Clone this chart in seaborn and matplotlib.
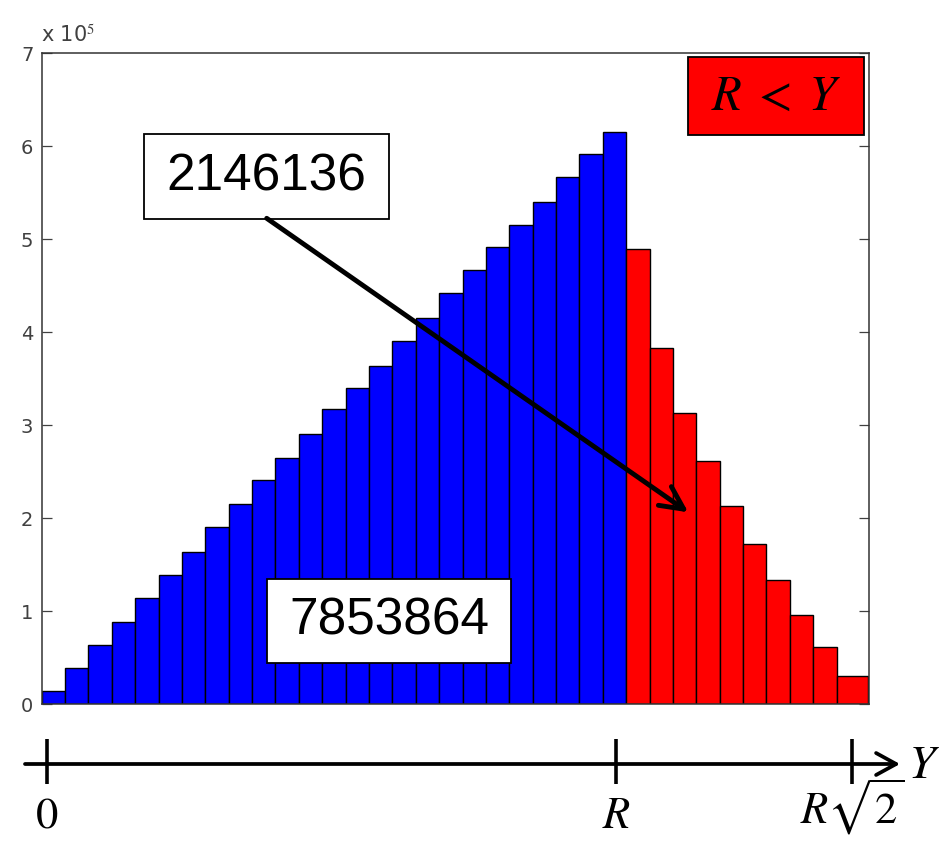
import numpy as np
import pandas as pd
import matplotlib
matplotlib.use("Agg")
import matplotlib.pyplot as plt
import seaborn as sns
from matplotlib.patches import Rectangle, FancyArrowPatch

# Distance Y from the corner for 10^7 random points in an R x R square,
# binned in steps of R/25 up to the largest distance R*sqrt(2).
bin_width = 0.04
y_max = np.sqrt(2)

counts_inside = [14000, 38700, 63800, 88200, 114400, 138800, 163800, 190000,
                 214800, 241300, 264300, 290100, 317000, 339600, 364000,
                 390800, 414900, 441800, 466500, 491300, 515600, 539700,
                 566600, 591600, 615600]          # Y < R
counts_outside = [489100, 382600, 313400, 261700, 213300, 172100, 133400,
                  95700, 61600, 30100]            # R < Y

total_inside = 7853864
total_outside = 2146136

ytick_values = [0, 1, 2, 3, 4, 5, 6, 7]
ytick_labels = ["0", "1", "2", "3", "4", "5", "6", "7"]
line_marks = [0.0, 1.0, np.sqrt(2)]
line_labels = [r"$0$", r"$R$", r"$R\sqrt{2}$"]

sns.set_style("white")
plt.rcParams["mathtext.fontset"] = "stix"

W, H = 939, 841
fig = plt.figure(figsize=(W / 100, H / 100), dpi=100)


def fx(x):
    return x / W


def fy(y):
    return 1 - y / H


# ---- histogram -----------------------------------------------------------
ax = fig.add_axes([fx(41.7), fy(704), fx(869) - fx(41.7), fy(53.3) - fy(704)])

edges_in = np.arange(len(counts_inside) + 1) * bin_width
edges_out = np.append(1.0 + np.arange(len(counts_outside)) * bin_width, y_max)
df_in = pd.DataFrame({"Y": (edges_in[:-1] + edges_in[1:]) / 2,
                      "count": counts_inside})
df_out = pd.DataFrame({"Y": (edges_out[:-1] + edges_out[1:]) / 2,
                       "count": counts_outside})

bar_kw = dict(alpha=1, edgecolor="black", linewidth=1.0, ax=ax)
sns.histplot(data=df_in, x="Y", weights="count", bins=list(edges_in),
             color="#0000ff", **bar_kw)
sns.histplot(data=df_out, x="Y", weights="count", bins=list(edges_out),
             color="#ff0000", **bar_kw)

ax.set_xlim(0, 1.4155)
ax.set_ylim(0, 7e5)
ax.set_xlabel("")
ax.set_ylabel("")
ax.set_xticks([])
ax.set_yticks(np.array(ytick_values) * 1e5, labels=ytick_labels)
ax.tick_params(axis="y", direction="in", length=7, width=0.9,
               left=True, right=True, labelsize=14, pad=6,
               colors="0.25", labelcolor="0.25")
for sp in ax.spines.values():
    sp.set_visible(True)
    sp.set_color("0.2")
    sp.set_linewidth(1.1)

fig.text(fx(41), fy(41.5), r"x 10$^{5}$", fontsize=15, color="0.25",
         ha="left", va="baseline", family="DejaVu Sans")


# ---- labelled boxes ------------------------------------------------------
def box(x0, y0, x1, y1, text, face, fontsize, family=None):
    fig.add_artist(Rectangle((fx(x0), fy(y1)), fx(x1) - fx(x0), fy(y0) - fy(y1),
                             transform=fig.transFigure, facecolor=face,
                             edgecolor="black", linewidth=1.3, zorder=5))
    kw = dict(fontsize=fontsize, ha="center", va="center", zorder=6,
              color="black")
    if family:
        kw["family"] = family
    fig.text(fx((x0 + x1) / 2), fy((y0 + y1) / 2), text, **kw)


box(144.3, 134.3, 389, 219, f"{total_outside}", "white", 37, "Liberation Sans")
box(267.3, 579.3, 510.7, 662.7, f"{total_inside}", "white", 37, "Liberation Sans")
box(687.7, 56.7, 864.3, 134.7, r"$R\;<\;Y$", "#ff0000", 35)

arrow = FancyArrowPatch((fx(266.7), fy(218.3)), (fx(688.3), fy(512.3)),
                        transform=fig.transFigure,
                        arrowstyle="->,head_length=1.66,head_width=0.82",
                        mutation_scale=10, lw=3.5, color="black",
                        shrinkA=0, shrinkB=0, zorder=7)
fig.add_artist(arrow)

# ---- number line below the histogram -------------------------------------
scale = 569.3          # pixels per R on the number line
origin = 46.7
ax2 = fig.add_axes([0, 0, 1, 121 / H])
ax2.set_xlim(-origin / scale, (W - origin) / scale)
ax2.set_ylim(121, 0)
ax2.axis("off")

ax2.annotate("", xy=((900 - origin) / scale, 44), xycoords="data",
             xytext=((25 - origin) / scale, 44), textcoords="data",
             arrowprops=dict(arrowstyle="->,head_length=1.44,head_width=0.79",
                             mutation_scale=10, lw=2.7, color="black",
                             shrinkA=0, shrinkB=0))
ax2.vlines(line_marks, 19.3, 64, color="black", lw=2.6)
for v, lab in zip(line_marks, line_labels):
    ax2.text(v, 117, lab, ha="center", va="bottom", fontsize=32,
             color="black")
ax2.text((908 - origin) / scale, 46, r"$Y$", ha="left", va="center",
         fontsize=34, color="black")

fig.savefig("out.png", dpi=100)
